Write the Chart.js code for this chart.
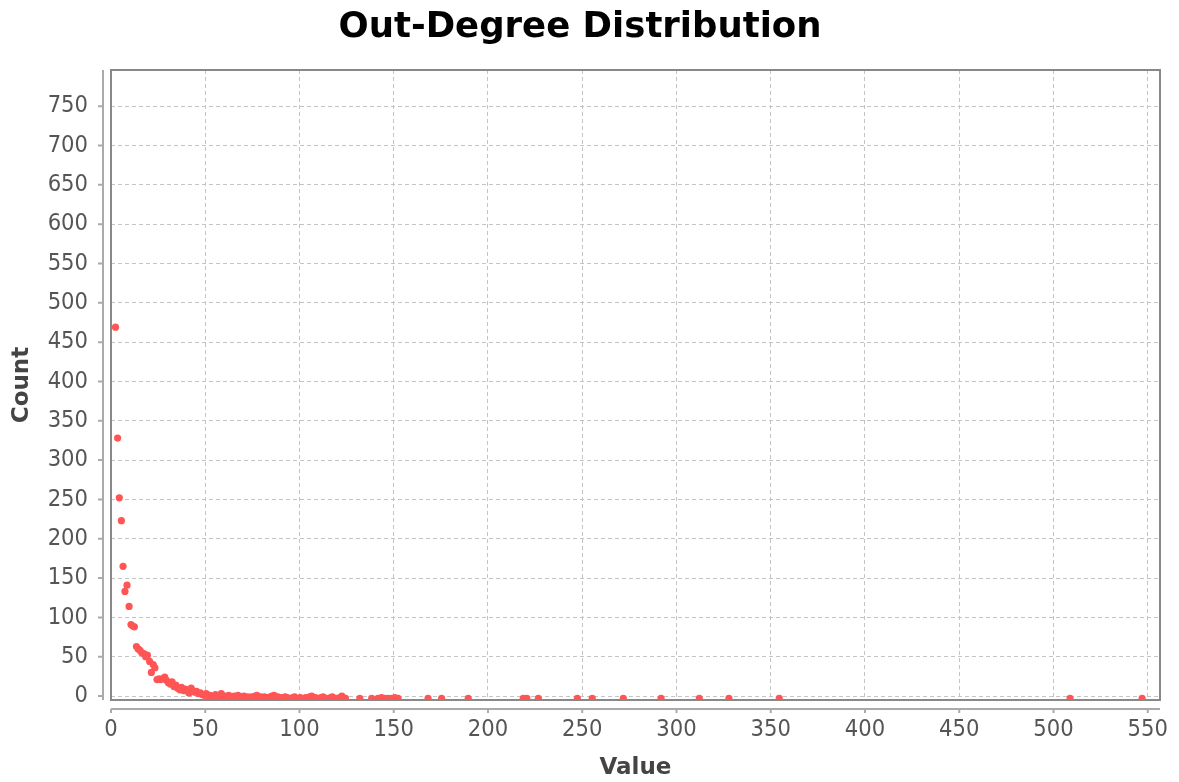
<!DOCTYPE html>
<html>
<head>
<meta charset="utf-8">
<title>Out-Degree Distribution</title>
<script src="https://cdn.jsdelivr.net/npm/chart.js@4.4.1/dist/chart.umd.min.js"></script>
<style>
  html, body { margin: 0; padding: 0; background: #fff; }
  canvas { display: block; }
</style>
</head>
<body>
<canvas id="degreeChart" width="1179" height="782"></canvas>
<script>
// Points (dot centres), dense head then sparse tail
const headValues = [
    2.4, 3.5, 4.4, 5.5, 6.4, 7.4, 8.5, 9.6, 10.6, 11.5,
    12.4, 13.5, 14.4, 15.4, 16.3, 17.4, 18.4, 19.3, 20.5, 21.4,
    22.4, 23.3, 24.4, 25.4, 26.3, 27.4, 28.5, 29.4, 30.4, 31.5,
    32.4, 33.5, 34.4, 35.4, 36.5, 37.4, 38.5, 39.4, 40.5, 41.4,
    42.5, 43.4, 44.5, 45.4, 46.5, 47.4, 48.5, 49.4, 50.5, 51.4,
    52.5, 53.4, 54.5, 55.4, 56.5, 57.4, 58.5, 59.4, 60.5, 61.4,
    62.5, 63.4, 64.5, 65.4, 66.5, 67.4, 68.5, 69.4, 70.5, 71.4,
    72.5, 73.4, 74.5, 75.4, 76.5, 77.4, 78.5, 79.4, 80.5, 81.4,
    82.5, 83.4, 84.5, 85.4, 86.5, 87.4, 88.5, 90.4, 91.5, 92.4,
    93.5, 95.4, 96.5, 97.4, 99.5, 100.4, 102.5, 103.4, 105.4, 106.5,
    108.4, 109.5, 111.4, 112.5, 114.4, 116.5, 117.4, 119.5, 121.4, 122.5,
    124.4
];
const headCounts = [
    469, 328, 252, 223, 165, 133, 141, 114, 91, 89,
    88, 63, 60, 58, 55, 54, 50, 52, 44, 30,
    40, 36, 21, 22, 21, 22, 24, 20, 17, 15,
    18, 12, 14, 10, 8, 11, 7, 9, 6, 4,
    10, 7, 5, 6, 3, 4, 2, 1, 3, 0,
    1, -1, 0, 2, -1, 0, 3, -2, 0, -1,
    1, -2, -1, 0, -2, 1, -1, -2, 0, -2,
    -1, -3, -1, -2, 0, 1, -2, -1, -3, -1,
    -2, -2, -1, 0, 1, -2, -1, -2, -3, -1,
    -2, -3, -2, -1, -3, -2, -3, -2, -1, 0,
    -2, -3, -2, -1, -3, -2, -1, -3, -2, 0,
    -3
];
const tailValues = [
    132.0, 138.3, 141.6, 143.5, 145.2, 147.0, 149.0, 150.6, 152.3, 168.2,
    175.4, 189.5, 218.7, 220.6, 226.7, 247.4, 255.3, 271.8, 291.8, 312.1,
    327.8, 354.5, 508.8, 547.0
];
const tailCounts = [
    -3, -3, -3, -2, -3, -3, -3, -2, -3, -3,
    -3, -3, -3, -3, -3, -3, -3, -3, -3, -3,
    -3, -3, -3, -3
];
const xTicks = [0, 50, 100, 150, 200, 250, 300, 350, 400, 450, 500, 550];
const yTicks = [0, 50, 100, 150, 200, 250, 300, 350, 400, 450, 500, 550, 600, 650, 700, 750];

const allValues = headValues.concat(tailValues);
const allCounts = headCounts.concat(tailCounts);
const points = allValues.map((v, i) => ({ x: v, y: allCounts[i] }));

const tickFont = { family: "'DejaVu Sans Condensed', 'DejaVu Sans', sans-serif", size: 23.5 };
const axisTitleFont = { family: "'DejaVu Sans', sans-serif", size: 23, weight: 'bold', lineHeight: 1.2 };

// plot outline plus the detached axis lines with their tick marks
const frame = {
    id: 'frame',
    afterDraw(chart) {
        const ctx = chart.ctx;
        const area = chart.chartArea;
        const xs = chart.scales.x;
        const ys = chart.scales.y;
        const axisX = area.left - 8;
        const axisY = area.bottom + 9;
        ctx.save();
        ctx.strokeStyle = '#aaaaaa';
        ctx.lineWidth = 2;
        ctx.beginPath();
        ctx.moveTo(axisX, area.top);
        ctx.lineTo(axisX, area.bottom);
        ctx.moveTo(area.left, axisY);
        ctx.lineTo(area.right, axisY);
        yTicks.forEach(t => {
            const py = ys.getPixelForValue(t);
            ctx.moveTo(axisX - 5, py);
            ctx.lineTo(axisX, py);
        });
        xTicks.forEach(t => {
            const px = xs.getPixelForValue(t);
            ctx.moveTo(px, axisY);
            ctx.lineTo(px, axisY + 4);
        });
        ctx.stroke();
        ctx.strokeStyle = '#888888';
        ctx.strokeRect(area.left, area.top, area.right - area.left, area.bottom - area.top);
        ctx.restore();
    }
};

new Chart(document.getElementById('degreeChart'), {
    type: 'scatter',
    data: {
        datasets: [{
            label: 'Out-Degree',
            data: points,
            backgroundColor: 'rgb(255, 85, 85)',
            borderWidth: 0,
            pointRadius: 3.6,
            pointHoverRadius: 3.6,
            clip: 0
        }]
    },
    options: {
        responsive: false,
        devicePixelRatio: 1,
        animation: false,
        layout: { padding: { left: 0, right: 19, top: 0, bottom: 0 } },
        plugins: {
            legend: { display: false },
            tooltip: { enabled: false },
            title: {
                display: true,
                text: 'Out-Degree Distribution',
                color: '#000',
                font: { family: "'DejaVu Sans', sans-serif", size: 35.5, weight: 'bold', lineHeight: 1.2 },
                padding: { top: 6.5, bottom: 20.9 }
            }
        },
        scales: {
            x: {
                type: 'linear',
                min: 0,
                max: 556.5,
                afterBuildTicks(scale) { scale.ticks = xTicks.map(v => ({ value: v })); },
                afterFit(scale) {
                    scale.height = 82;
                    scale.paddingLeft = 0;
                    scale.paddingRight = 0;
                },
                grid: { color: '#c4c4c4', lineWidth: 1, drawTicks: false },
                border: { display: false, dash: [4, 3] },
                ticks: { color: '#555', font: tickFont, padding: 16, maxRotation: 0 },
                title: { display: true, text: 'Value', color: '#444', font: axisTitleFont, padding: { top: 0, bottom: 0 } }
            },
            y: {
                type: 'linear',
                min: -5,
                max: 796,
                afterBuildTicks(scale) { scale.ticks = yTicks.map(v => ({ value: v })); },
                afterFit(scale) {
                    scale.width = 111;
                    scale.paddingTop = 0;
                    scale.paddingBottom = 0;
                },
                grid: { color: '#c4c4c4', lineWidth: 1, drawTicks: false },
                border: { display: false, dash: [4, 3] },
                ticks: { color: '#555', font: tickFont, padding: 23 },
                title: { display: true, text: 'Count', color: '#444', font: axisTitleFont, padding: { top: 8.7, bottom: 0 } }
            }
        }
    },
    plugins: [frame]
});
</script>
</body>
</html>
